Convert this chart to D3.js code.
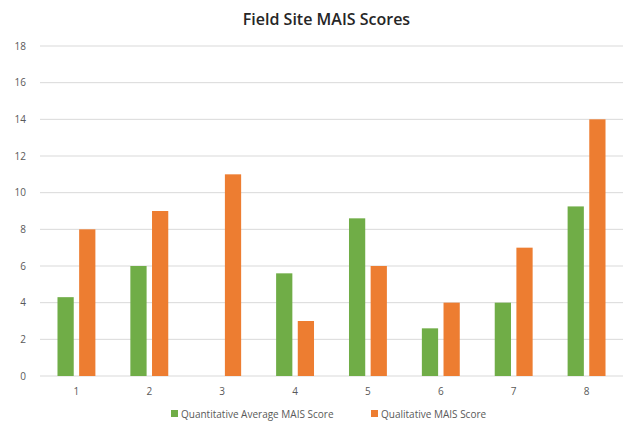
<!DOCTYPE html>
<meta charset="utf-8">
<script src="https://d3js.org/d3.v7.min.js"></script>
<style>
body{margin:0;background:#fff;}
text{font-family:"Open Sans","Liberation Sans",sans-serif;}
</style>
<div id="chart"></div>
<script>
  // data
  var sites = ["1","2","3","4","5","6","7","8"];
  var quantScores = [4.3, 6, 0, 5.6, 8.6, 2.6, 4, 9.25];
  var qualScores = [8, 9, 11, 3, 6, 4, 7, 14];
  var yTicks = [0,2,4,6,8,10,12,14,16,18];
  var seriesNames = ["Quantitative Average MAIS Score","Qualitative MAIS Score"];
  var colors = ["#70ad47","#ed7d31"];

  var W = 633, H = 425;
  var margin = {top: 46, right: 10, bottom: 49, left: 40},
      width = W - margin.left - margin.right,
      height = H - margin.top - margin.bottom;

  var svg = d3.select("#chart").append("svg")
      .attr("width", W).attr("height", H);

  var g = svg.append("g")
      .attr("transform","translate("+margin.left+","+margin.top+")");

  var x = d3.scaleBand().domain(sites).range([0,width]).paddingInner(0.48).paddingOuter(0.24);
  var x1 = d3.scaleBand().domain([0,1]).range([0,x.bandwidth()]).paddingInner(0.25);
  var y = d3.scaleLinear().domain([0,18]).range([height,0]);

  // gridlines
  g.append("g").selectAll("line").data(yTicks).enter().append("line")
    .attr("x1",0).attr("x2",width)
    .attr("y1",function(d){return y(d);}).attr("y2",function(d){return y(d);})
    .style("stroke","#d9d9d9").style("stroke-width",1);

  // y labels
  var yAxis = g.append("g").call(d3.axisLeft(y).tickValues(yTicks).tickSize(0).tickPadding(14));
  yAxis.select(".domain").remove();
  yAxis.selectAll("text").style("font-size","10px").style("fill","#595959");

  // x labels
  var xAxis = g.append("g").attr("transform","translate(0,"+height+")")
    .call(d3.axisBottom(x).tickSize(0).tickPadding(12));
  xAxis.select(".domain").remove();
  xAxis.selectAll("text").style("font-size","10px").style("fill","#595959");

  var rows = sites.map(function(s,i){return {site:s, vals:[quantScores[i], qualScores[i]]};});

  var grp = g.selectAll(".grp").data(rows).enter().append("g")
    .attr("transform",function(d){return "translate("+x(d.site)+",0)";});

  grp.selectAll("rect").data(function(d){return d.vals.map(function(v,k){return {k:k,v:v};});})
    .enter().filter(function(d){return d.v > 0;}).append("rect")
      .attr("x",function(d){return x1(d.k);})
      .attr("width",x1.bandwidth())
      .attr("y",function(d){return y(d.v);})
      .attr("height",function(d){return height - y(d.v);})
      .style("fill",function(d){return colors[d.k];});

  // title
  svg.append("text")
    .attr("x", W/2 + 10).attr("y", 25)
    .attr("text-anchor","middle")
    .style("font-size","16px").style("fill","#262626").style("font-weight","600")
    .text("Field Site MAIS Scores");

  // legend
  var legX = [171, 371];
  var leg = svg.selectAll(".leg").data(seriesNames).enter().append("g")
    .attr("transform",function(d,i){return "translate("+legX[i]+",418)";});
  leg.append("rect").attr("x",0).attr("y",-8).attr("width",7).attr("height",7)
    .style("fill",function(d,i){return colors[i];});
  leg.append("text").attr("x",10).attr("y",0)
    .style("font-size","10px").style("fill","#595959")
    .text(function(d){return d;});
</script>
